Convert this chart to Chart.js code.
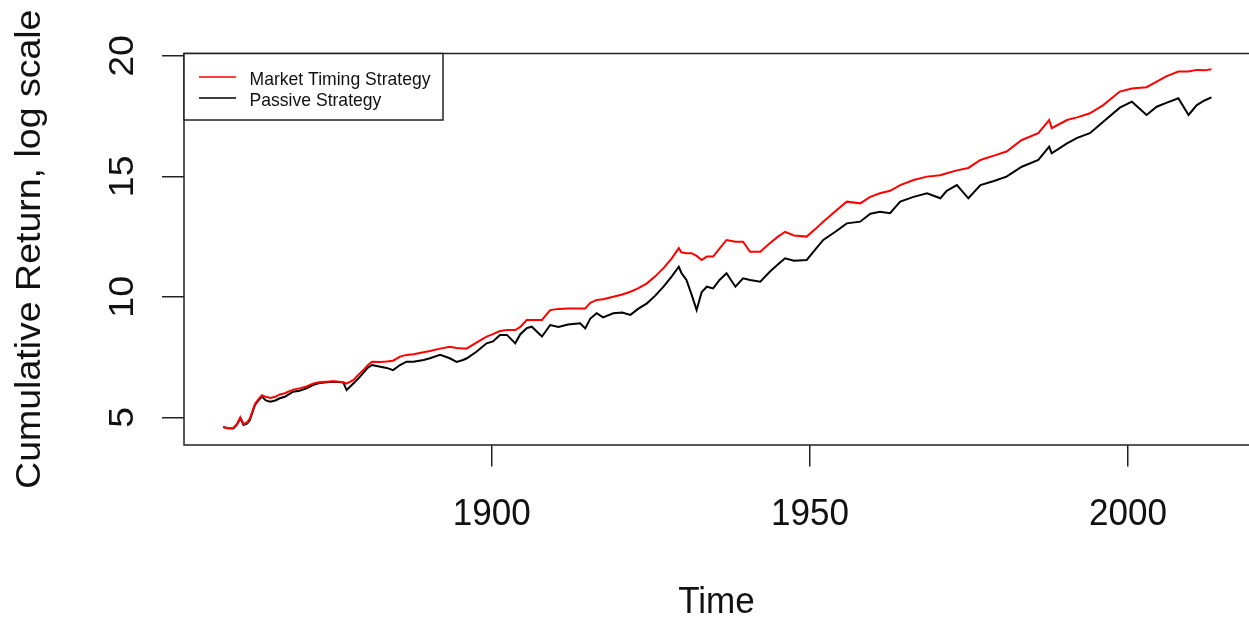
<!DOCTYPE html>
<html>
<head>
<meta charset="utf-8">
<script src="https://cdn.jsdelivr.net/npm/chart.js@4.4.1/dist/chart.umd.min.js"></script>
<style>
html,body{margin:0;padding:0;background:#fff;overflow:hidden;}
#wrap{position:relative;width:1249px;height:618px;}
</style>
</head>
<body>
<div id="wrap"><canvas id="c" width="1249" height="618"></canvas></div>
<script>
// ---- data ----
const years = [1857.8,1858.5,1859.4,1860.0,1860.5,1861.0,1861.6,1862.0,1862.8,1863.5,1863.9,1864.5,1865.2,1866.0,1866.7,1867.5,1868.8,1869.8,1870.9,1872.0,1872.8,1874.0,1875.1,1876.0,1876.7,1877.2,1878.3,1879.0,1879.8,1880.5,1881.2,1882.5,1883.5,1884.5,1885.6,1886.6,1887.7,1889.3,1890.3,1891.9,1893.4,1894.5,1895.5,1896.1,1897.6,1899.2,1900.2,1901.3,1902.4,1903.7,1904.5,1905.5,1906.3,1907.9,1909.2,1910.5,1912.0,1913.9,1914.7,1915.5,1916.5,1917.5,1919.1,1920.5,1921.8,1923.0,1924.4,1925.7,1927.0,1928.3,1929.4,1929.8,1930.6,1931.4,1932.2,1933.0,1933.8,1934.8,1935.8,1936.9,1938.3,1939.5,1940.6,1942.2,1943.7,1945.0,1946.1,1947.5,1949.5,1950.8,1952.1,1954.0,1955.8,1957.9,1959.5,1961.0,1962.6,1964.2,1966.3,1968.4,1970.5,1971.5,1973.1,1974.9,1976.8,1978.8,1980.9,1983.3,1985.9,1987.6,1988.0,1990.4,1992.0,1994.0,1996.1,1998.7,2000.6,2002.9,2004.5,2006.0,2007.9,2009.5,2010.8,2012.0,2013.1];
const passive = [4.60,4.55,4.54,4.70,4.96,4.68,4.75,4.89,5.51,5.75,5.86,5.70,5.65,5.70,5.79,5.85,6.06,6.10,6.20,6.35,6.41,6.45,6.48,6.46,6.44,6.13,6.41,6.60,6.83,7.05,7.17,7.10,7.05,6.96,7.17,7.31,7.31,7.38,7.45,7.59,7.45,7.30,7.38,7.45,7.72,8.07,8.15,8.42,8.42,8.07,8.45,8.70,8.76,8.35,8.83,8.75,8.85,8.90,8.69,9.10,9.32,9.15,9.32,9.35,9.25,9.50,9.73,10.05,10.42,10.85,11.25,11.00,10.70,10.10,9.45,10.20,10.42,10.35,10.70,10.98,10.42,10.77,10.70,10.63,11.04,11.35,11.60,11.50,11.53,11.95,12.36,12.70,13.05,13.12,13.45,13.53,13.47,13.95,14.15,14.30,14.09,14.40,14.64,14.09,14.64,14.80,14.99,15.40,15.68,16.23,15.96,16.37,16.60,16.79,17.27,17.85,18.10,17.55,17.89,18.05,18.24,17.55,17.96,18.15,18.28];
const timing = [4.60,4.55,4.56,4.72,5.00,4.72,4.80,4.95,5.55,5.80,5.92,5.85,5.80,5.85,5.95,6.00,6.15,6.20,6.28,6.40,6.45,6.48,6.50,6.48,6.46,6.40,6.55,6.75,6.95,7.15,7.31,7.30,7.32,7.35,7.52,7.59,7.62,7.70,7.75,7.85,7.93,7.88,7.86,7.86,8.10,8.35,8.45,8.58,8.62,8.62,8.75,9.04,9.04,9.04,9.45,9.50,9.52,9.52,9.52,9.75,9.87,9.90,10.00,10.10,10.21,10.35,10.56,10.85,11.19,11.60,12.02,11.85,11.81,11.81,11.70,11.53,11.67,11.67,12.00,12.36,12.29,12.29,11.87,11.87,12.22,12.50,12.70,12.55,12.50,12.80,13.12,13.55,13.95,13.88,14.15,14.30,14.40,14.64,14.85,14.99,15.05,15.13,15.25,15.35,15.68,15.85,16.03,16.51,16.79,17.34,17.00,17.34,17.45,17.62,17.96,18.52,18.65,18.70,18.93,19.15,19.35,19.35,19.42,19.40,19.45];
const seriesNames = ["Market Timing Strategy", "Passive Strategy"];
const xTickValues = [1900, 1950, 2000];
const yTickValues = [5, 10, 15, 20];
const xTitle = "Time";
const yTitle = "Cumulative Return, log scale";

// ---- chart ----
const FONT = '"Liberation Sans", Arial, sans-serif';
const BIG = 37.5, SQ = 0.935;

function txt(ctx, s, x, y, vertical, size, sq, align) {
  ctx.save();
  ctx.font = size + 'px ' + FONT;
  ctx.textAlign = align || 'center';
  ctx.textBaseline = 'alphabetic';
  ctx.translate(x, y);
  if (vertical) { ctx.rotate(-Math.PI / 2); ctx.scale(1, sq); }
  else { ctx.scale(sq, 1); }
  ctx.fillText(s, 0, 0);
  ctx.restore();
}

const rFrame = {
  id: 'rFrame',
  afterDraw(chart) {
    const ctx = chart.ctx, a = chart.chartArea;
    const xs = chart.scales.x, ys = chart.scales.y;
    ctx.save();
    ctx.strokeStyle = '#222';
    ctx.lineWidth = 1.5;
    ctx.beginPath();
    ctx.moveTo(a.right + 5, a.top); ctx.lineTo(a.left, a.top);
    ctx.lineTo(a.left, a.bottom); ctx.lineTo(a.right + 5, a.bottom);
    ctx.stroke();
    ctx.fillStyle = '#111';
    xs.ticks.forEach(t => txt(ctx, String(t.value), xs.getPixelForValue(t.value), 525, false, BIG, SQ));
    ys.ticks.forEach(t => txt(ctx, String(t.value), 133, ys.getPixelForValue(t.value), true, BIG, SQ));
    txt(ctx, xTitle, (a.left + a.right) / 2, 613, false, BIG, SQ);
    txt(ctx, yTitle, 40, (a.top + a.bottom) / 2, true, BIG, SQ);
    // legend
    const lx = a.left, ly = a.top, lw = 259, lh = 66.5;
    ctx.fillStyle = '#fff';
    ctx.fillRect(lx, ly, lw, lh);
    ctx.strokeStyle = '#222';
    ctx.lineWidth = 1.5;
    ctx.strokeRect(lx, ly, lw, lh);
    const rows = [[ly + 23.5, 85], [ly + 44.5, 106]];
    chart.data.datasets.forEach((ds, i) => {
      ctx.strokeStyle = ds.borderColor;
      ctx.lineWidth = 1.6;
      ctx.beginPath();
      ctx.moveTo(199, rows[i][0]); ctx.lineTo(236, rows[i][0]);
      ctx.stroke();
      ctx.fillStyle = '#111';
      txt(ctx, ds.label, 249.5, rows[i][1], false, 18.6, 0.945, 'left');
    });
    ctx.restore();
  }
};

const toPts = vals => years.map((y, i) => ({x: y, y: vals[i]}));

new Chart(document.getElementById('c'), {
  type: 'line',
  data: {
    datasets: [
      {label: seriesNames[0], data: toPts(timing), borderColor: '#ff0000', borderWidth: 2, pointRadius: 0, tension: 0, fill: false},
      {label: seriesNames[1], data: toPts(passive), borderColor: '#000000', borderWidth: 2, pointRadius: 0, tension: 0, fill: false}
    ]
  },
  options: {
    responsive: false,
    animation: false,
    events: [],
    layout: {padding: {top: 53.5, right: 0, left: 0, bottom: 0}},
    plugins: {legend: {display: false}, tooltip: {enabled: false}},
    scales: {
      x: {
        type: 'linear', min: 1851.65, max: 2019.0,
        afterBuildTicks: s => { s.ticks = xTickValues.map(v => ({value: v})); },
        afterFit: s => { s.height = 173; },
        ticks: {display: false},
        grid: {drawOnChartArea: false, drawTicks: true, tickLength: 21.5, color: '#222', lineWidth: 1.5},
        border: {display: false}
      },
      y: {
        type: 'linear', min: 3.85, max: 20.1,
        afterBuildTicks: s => { s.ticks = yTickValues.map(v => ({value: v})); },
        afterFit: s => { s.width = 184; },
        ticks: {display: false},
        grid: {drawOnChartArea: false, drawTicks: true, tickLength: 22, color: '#222', lineWidth: 1.5},
        border: {display: false}
      }
    }
  },
  plugins: [rFrame]
});
</script>
</body>
</html>
